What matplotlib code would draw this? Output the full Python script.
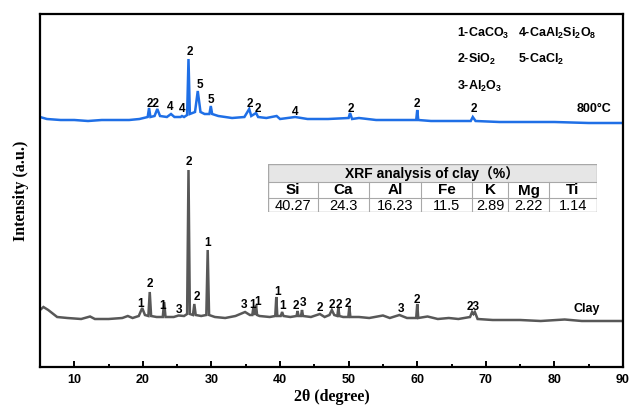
import matplotlib
matplotlib.use("Agg")
import matplotlib.pyplot as plt
from matplotlib.patches import Rectangle
from matplotlib.ticker import MultipleLocator

plt.rcParams['mathtext.default'] = 'regular'

# ---------------- data ----------------
clay_2theta = [5.0, 5.5, 6.2, 7.5, 9, 11, 12.3, 13, 15, 17, 17.8, 18.5, 19.4, 19.9, 20.3, 20.8, 21.0, 21.2,
               22.0, 22.9, 23.1, 23.3, 24.5, 25.2, 26.0, 26.45, 26.65, 26.85, 27.3, 27.5, 27.7, 28.5,
               29.25, 29.45, 29.65, 30.5, 32, 33.5, 34.9, 35.6, 35.95, 36.1, 36.3, 36.5, 36.65, 37.0,
               38.5, 39.3, 39.45, 39.6, 40.1, 40.3, 40.5, 41.5, 42.4, 42.55, 42.7, 43.05, 43.2, 43.35,
               44.5, 45.8, 46.5, 47.2, 47.55, 47.9, 48.35, 48.5, 48.65, 49.2, 49.95, 50.1, 50.25, 51.5,
               53, 55.0, 56, 57.4, 58.5, 59.85, 60.0, 60.15, 61.5, 63, 64.6, 66, 67.7, 68.0, 68.2, 68.4,
               68.8, 71, 75, 78, 81.5, 84, 87, 90]
clay_intensity = [57, 60, 57, 50, 49, 48, 50.5, 48, 48, 49, 51, 49, 51, 59, 52, 51, 75, 51,
                  50, 50, 65, 50, 50, 51.5, 51, 53, 197, 53, 52, 63, 52, 51,
                  52, 117, 52, 50, 49, 51, 55, 52, 52, 59, 52, 62, 52, 51,
                  50, 51, 70, 51, 51, 55, 51, 50, 51, 56, 51, 51, 57, 51,
                  50, 53, 50, 52, 57, 52, 51, 59, 51, 50, 50, 60, 50, 50,
                  49, 51.5, 49, 52, 49, 49, 63, 49, 50.5, 48, 49, 48, 50, 55, 53, 55,
                  48, 47, 47, 46, 47.5, 46, 46, 46]

t800_2theta = [5.0, 6, 8, 10, 12, 14, 16, 18, 19.5, 20.7, 20.9, 21.1, 21.7, 22.1, 22.5, 23.5, 24.1, 24.6,
               25.5, 25.7, 26.0, 26.45, 26.65, 26.85, 27.6, 28.0, 28.4, 29.0, 29.7, 29.9, 30.1, 31, 33,
               34.8, 35.5, 35.8, 36.5, 36.8, 38, 39.5, 40, 42.2, 44, 47, 50.0, 50.2, 50.5, 51.5, 54, 57,
               59.85, 60.0, 60.15, 62, 65, 67.8, 68.1, 68.5, 72, 76, 80, 85, 90]
t800_intensity = [250, 248, 247, 247, 246, 247, 247, 247, 248, 250, 259, 250, 251, 258, 251, 250, 253, 250,
                  250, 251, 250, 252, 308, 253, 255, 276, 255, 253, 253, 261, 253, 251, 249,
                  250, 258, 251, 254, 250, 249, 251, 248, 250, 248, 248, 249, 254, 248, 249, 247, 247,
                  247, 257, 247, 246, 246, 246, 250, 246, 245, 245, 245, 244, 244]

clay_label_x = [19.7, 21.0, 22.9, 25.3, 26.7, 27.9, 29.4, 34.7, 35.95, 36.75, 39.7, 40.3, 42.3, 43.4,
                45.8, 47.6, 48.6, 49.9, 57.6, 60.0, 68.1]
clay_label_y = [60, 80, 58, 54, 202, 67, 121, 59, 59, 62, 72, 58, 58, 61, 56, 59, 59, 60, 55, 64, 57]
clay_label_text = ['1', '2', '1', '3', '2', '2', '1', '3', '1', '1', '1', '1', '2', '3',
                   '2', '2', '2', '2', '3', '2', '23']

t800_label_x = [21.5, 24.0, 25.7, 26.9, 28.3, 29.9, 35.6, 36.7, 42.2, 50.3, 60.0, 68.3]
t800_label_y = [260, 257, 255, 312, 279, 264, 260, 255, 252, 255, 260, 255]
t800_label_text = ['22', '4', '4', '2', '5', '5', '2', '2', '4', '2', '2', '2']

phase_labels = ['1-CaCO$_3$', '4-CaAl$_2$Si$_2$O$_8$', '2-SiO$_2$', '5-CaCl$_2$', '3-Al$_2$O$_3$']

xrf_elements = ['Si', 'Ca', 'Al', 'Fe', 'K', 'Mg', 'Ti']
xrf_values = ['40.27', '24.3', '16.23', '11.5', '2.89', '2.22', '1.14']

# ---------------- figure ----------------
W, H = 629, 409
fig = plt.figure(figsize=(W / 100, H / 100), dpi=100)
ax = fig.add_axes([40 / W, 1 - 367 / H, (623 - 40) / W, (367 - 14) / H])

sans = ['Liberation Sans', 'DejaVu Sans']
serif = ['Liberation Serif', 'DejaVu Serif']

ax.plot(clay_2theta, clay_intensity, color='#585858', lw=1.8, solid_joinstyle='miter')
ax.plot(t800_2theta, t800_intensity, color='#1f6fe6', lw=1.8, solid_joinstyle='miter')

ax.set_xlim(5, 90)
ax.set_ylim(0, 353)

for x, y, t in zip(clay_label_x, clay_label_y, clay_label_text):
    ax.text(x, y, t, ha='center', va='baseline', fontsize=8.5, fontweight='bold', family=sans)
for x, y, t in zip(t800_label_x, t800_label_y, t800_label_text):
    ax.text(x, y, t, ha='center', va='baseline', fontsize=8.5, fontweight='bold', family=sans)

ax.text(88.25, 255, '800°C', ha='right', va='baseline', fontsize=9, fontweight='bold', family=sans)
ax.text(86.6, 55, 'Clay', ha='right', va='baseline', fontsize=9, fontweight='bold', family=sans)

legend_pos = [(65.8, 330), (74.7, 330), (65.8, 304), (74.7, 304), (65.8, 277)]
for (x, y), t in zip(legend_pos, phase_labels):
    ax.text(x, y, t, ha='left', va='baseline', fontsize=9, fontweight='bold', family=sans)

ax.xaxis.set_major_locator(MultipleLocator(10))
ax.xaxis.set_minor_locator(MultipleLocator(5))
ax.tick_params(axis='x', which='major', direction='in', length=4.5, width=1.4, pad=5)
ax.tick_params(axis='x', which='minor', direction='in', length=2.5, width=1.4)
ax.set_yticks([])
for lab in ax.get_xticklabels():
    lab.set_fontfamily(sans)
    lab.set_fontweight('bold')
    lab.set_fontsize(9)
for sp in ax.spines.values():
    sp.set_linewidth(1.6)

ax.set_xlabel('2θ (degree)', fontsize=11.5, fontweight='bold', family=serif, labelpad=2)
ax.set_ylabel('Intensity (a.u.)', fontsize=11.5, fontweight='bold', family=serif, labelpad=8)

# ---------------- XRF table ----------------
tx0, tx1, ty0, ty1 = 268, 597, 164, 212
tab = fig.add_axes([tx0 / W, 1 - ty1 / H, (tx1 - tx0) / W, (ty1 - ty0) / H])
tab.set_xlim(tx0, tx1)
tab.set_ylim(ty1, ty0)
tab.axis('off')
col_edges = [268, 318, 369, 421, 472, 508, 549, 597]
row_edges = [164, 182, 198, 212]
gc = '#a8a8a8'
tab.add_patch(Rectangle((tx0, row_edges[0]), tx1 - tx0, row_edges[1] - row_edges[0],
                        facecolor='#e6e6e6', edgecolor='none'))
tab.add_patch(Rectangle((tx0, ty0), tx1 - tx0, ty1 - ty0, facecolor='none', edgecolor=gc, lw=1.0))
for r in row_edges[1:-1]:
    tab.plot([tx0, tx1], [r, r], color=gc, lw=0.8)
for c in col_edges[1:-1]:
    tab.plot([c, c], [row_edges[1], ty1], color=gc, lw=0.8)
tab.text((tx0 + tx1) / 2, (row_edges[0] + row_edges[1]) / 2 + 0.5, 'XRF analysis of clay（%）',
         ha='center', va='center', fontsize=10, fontweight='bold',
         family=['Liberation Sans', 'Noto Sans CJK SC'])
for i, (e, v) in enumerate(zip(xrf_elements, xrf_values)):
    cx = (col_edges[i] + col_edges[i + 1]) / 2
    tab.text(cx, (row_edges[1] + row_edges[2]) / 2 + 0.5, e, ha='center', va='center',
             fontsize=11, fontweight='bold', family=sans)
    tab.text(cx, (row_edges[2] + row_edges[3]) / 2 + 0.5, v, ha='center', va='center',
             fontsize=10.5, family=sans)

fig.savefig('out.png', dpi=100)
